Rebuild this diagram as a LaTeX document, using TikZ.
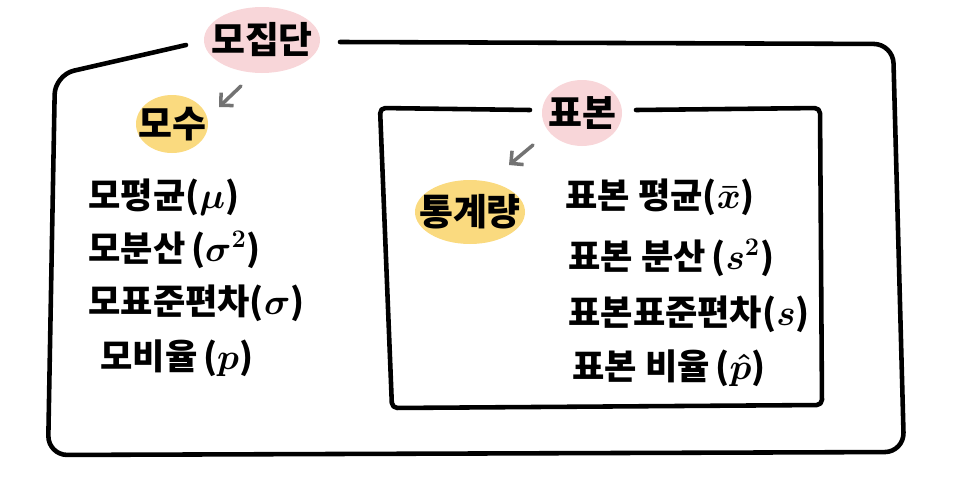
\documentclass[tikz,border=0pt]{standalone}
\usepackage{fontspec}
\setmainfont{Noto Sans CJK KR}
\usetikzlibrary{arrows.meta, backgrounds}
\definecolor{tagpink}{HTML}{F8D6D9}
\definecolor{tagyellow}{HTML}{FADA7F}

\begin{document}
\begin{tikzpicture}[x=0.02cm, y=-0.02cm, >={Straight Barb[length=1.8mm, width=3.6mm]},
  every node/.style={font=\fontsize{21}{24}\selectfont\bfseries\boldmath},
  boxline/.style={line width=2.6pt, line cap=round, line join=round},
  hint/.style={->, draw=black!55, line width=2pt, line cap=round},
  item/.style={anchor=west, inner sep=0pt, font=\fontsize{20}{24}\selectfont\bfseries\boldmath}]
  \useasboundingbox (0,0) rectangle (960,480);

  % population frame
  \draw[boxline, rounded corners=11pt] (186,45) -- (55,75) -- (48,455) -- (904,452) -- (893,44) -- (340,42);
  \node (jip) at (262,40) {모집단};
  \node (mosu) at (172,124) {모수};
  \coordinate (jiptail) at (241,86);
  \coordinate (jiphead) at (219,107);
  \draw[hint] (jiptail) -- (jiphead);

  \node[item] (pmean) at (88,197) {모평균($\mu$)};
  \node[item] (pvar)  at (88,250) {모분산\,($\sigma^2$)};
  \node[item] (psd)   at (88,303) {모표준편차($\sigma$)};
  \node[item] (pprop) at (100,358) {모비율\,($p$)};

  % sample frame
  \draw[boxline, rounded corners=3pt] (530,110) -- (380,108) -- (392,408) -- (822,405) -- (820,108) -- (636,110);
  \node (pyo) at (582,113) {표본};
  \node (tong) at (470,212) {통계량};
  \coordinate (pyotail) at (533,145);
  \coordinate (pyohead) at (509,165);
  \draw[hint] (pyotail) -- (pyohead);

  \node[item] (smean) at (565,197) {표본 평균($\bar{x}$)};
  \node[item] (svar)  at (568,258) {표본 분산\,($s^2$)};
  \node[item] (ssd)   at (568,314) {표본표준편차($s$)};
  \node[item] (sprop) at (572,368) {표본 비율\,($\hat{p}$)};

  % tag blobs
  \begin{scope}[on background layer]
    \fill[tagpink] (jip.center) ellipse [x radius=58, y radius=33];
    \fill[tagpink] (pyo.center) ellipse [x radius=40, y radius=33];
    \fill[tagyellow] (mosu.center) ellipse [x radius=36, y radius=29];
    \fill[tagyellow] (tong.center) ellipse [x radius=55, y radius=32];
  \end{scope}
\end{tikzpicture}
\end{document}
